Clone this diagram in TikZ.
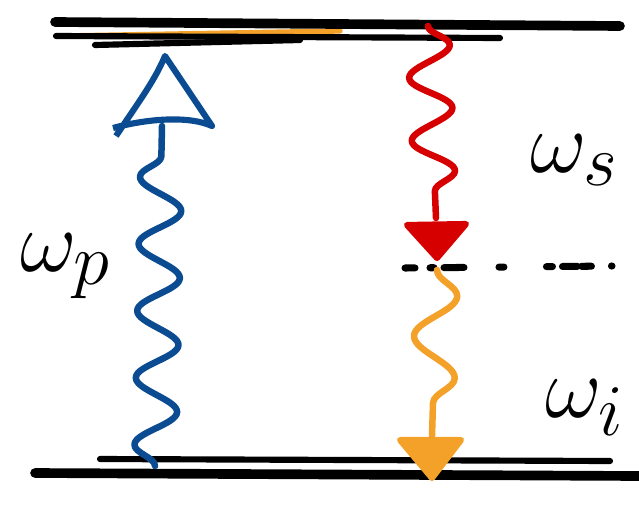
\documentclass[tikz,border=0pt]{standalone}
\usepackage{tikz}
\usetikzlibrary{decorations.pathmorphing}
\definecolor{pumpc}{HTML}{0B4B91}
\definecolor{signalc}{HTML}{D60000}
\definecolor{idlerc}{HTML}{F4A12A}
\tikzset{
  level/.style={draw=black, line width=5.5pt, line cap=round},
  sublevel/.style={draw=black, line width=3.5pt, line cap=round},
  virtual/.style={draw=black, line width=4pt, line cap=round, dash pattern=on 0.2cm off 0.3cm on 0.08cm off 0.2cm on 0.4cm off 0.7cm on 0.1cm off 0.85cm on 0.12cm},
  photon/.style={line width=3.7pt, line cap=round, line join=round, decorate, decoration={snake, amplitude=0.42cm, segment length=#1}},
  tip/.style={line width=3.5pt, line join=round},
  freq/.style={font=\Huge, scale=2},
}

\begin{document}
\begin{tikzpicture}[x=0.02cm, y=-0.02cm]
\useasboundingbox (0,0) rectangle (639,511);
% energy levels
\coordinate (top) at (55,22);
\coordinate (topend) at (620,26);
\coordinate (bot) at (35,473);
\coordinate (botend) at (639,476);
\draw[idlerc, line width=3pt, line cap=round] (60,36) -- (340,31);
\draw[level] (top) -- (topend);
\draw[sublevel] (56,36) -- (500,38);
\draw[sublevel] (95,45) -- (300,40);
\draw[level] (bot) -- (botend);
\draw[sublevel] (100,459) -- (610,461);
% virtual level
\coordinate (mid) at (405,268);
\coordinate (midend) at (612,266);
\draw[virtual] (mid) -- (midend);
% pump
\coordinate (p0) at (155,466);
\coordinate (p1) at (162,126);
\draw[pumpc, photon=1.34cm] (p0) -- (p1);
\draw[pumpc, tip] (113,128) .. controls (150,118) and (190,116) .. (212,126) -- (165,56) .. controls (155,80) and (140,100) .. (116,136);
% signal
\coordinate (s0) at (428,26);
\coordinate (s1) at (436,218);
\draw[signalc, photon=1.26cm] (s0) -- (s1);
\fill[signalc, draw=signalc, tip] (407,225) -- (466,224) -- (437,258) -- cycle;
% idler
\coordinate (i0) at (437,270);
\coordinate (i1) at (432,436);
\draw[idlerc, photon=1.64cm] (i0) -- (i1);
\fill[idlerc, draw=idlerc, tip] (400,440) -- (461,440) -- (432,478) -- cycle;
% labels
\node[freq] (wp) at (66,266) {$\omega_p$};
\node[freq] (ws) at (575,160) {$\omega_s$};
\node[freq] (wi) at (585,408) {$\omega_i$};
\end{tikzpicture}
\end{document}
